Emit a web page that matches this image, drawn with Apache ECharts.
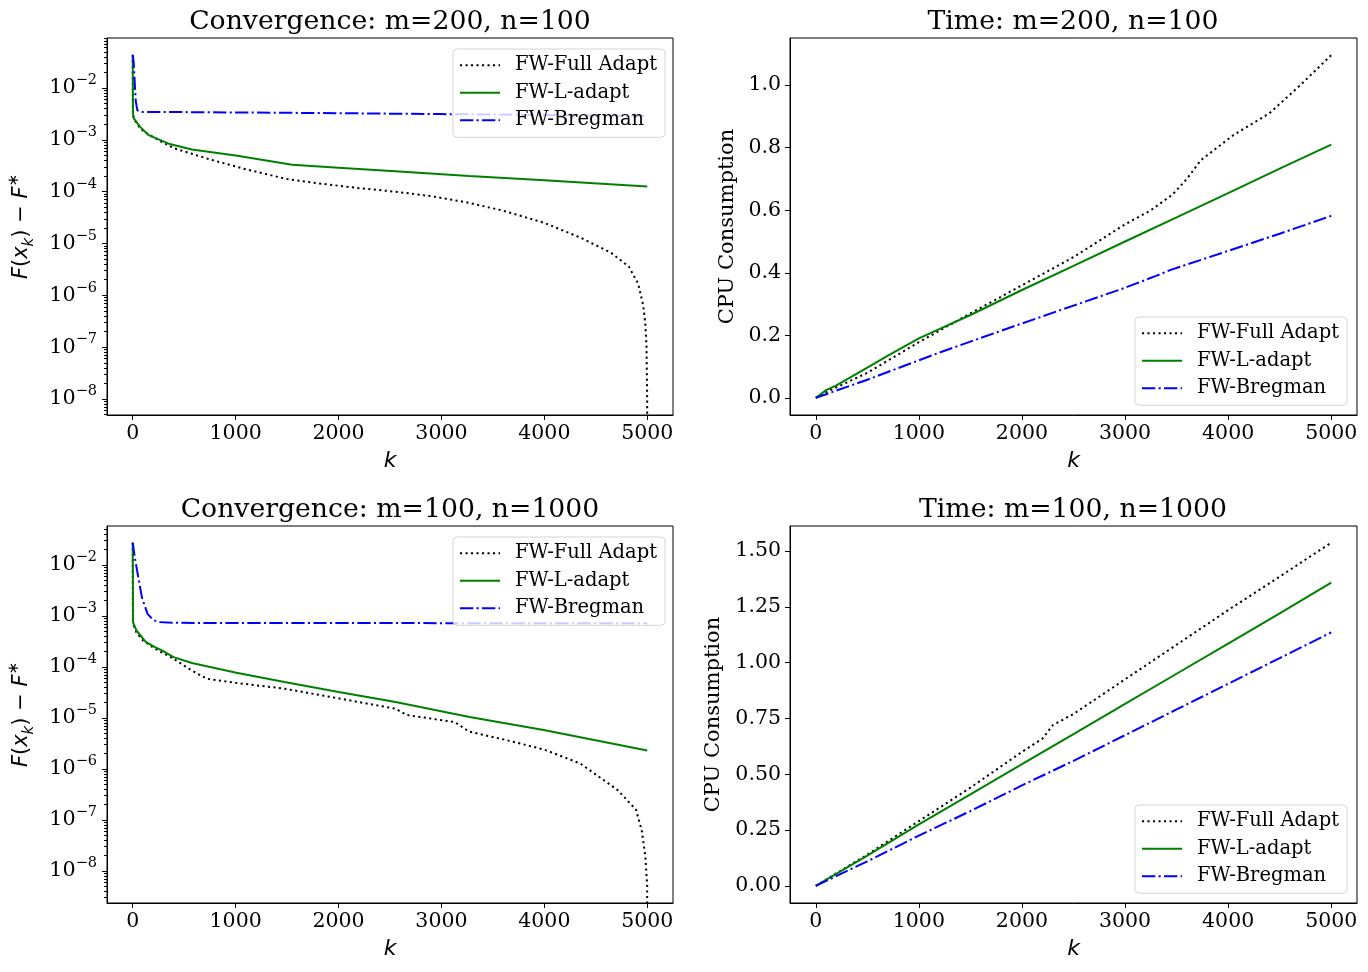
<!DOCTYPE html>
<html><head><meta charset="utf-8">
<script src="https://cdn.jsdelivr.net/npm/echarts@6/dist/echarts.min.js"></script>
<style>html,body{margin:0;padding:0;background:#fff}#c{width:1368px;height:972px}</style>
</head><body><div id="c"></div>
<script>
const seriesNames = ['FW-Full Adapt', 'FW-L-adapt', 'FW-Bregman'];
const kTicks = [0, 1000, 2000, 3000, 4000, 5000];
const logMajorTicks = [1e-8, 1e-7, 1e-6, 1e-5, 1e-4, 1e-3, 1e-2];
const tr1Ticks = [0, 0.2, 0.4, 0.6, 0.8, 1.0];
const tr2Ticks = [0, 0.25, 0.5, 0.75, 1.0, 1.25, 1.5];
const titles = ['Convergence: m=200, n=100', 'Time: m=200, n=100', 'Convergence: m=100, n=1000', 'Time: m=100, n=1000'];

// Convergence m=200, n=100 (last value is 0 in the original -> drawn off the bottom)
const conv1Full = [[0,0.043],[2,0.0033],[10,0.0026],[50,0.0019],[100,0.0015],[200,0.00112],[400,0.00069],[750,0.00042],[1100,0.00027],[1500,0.000175],[1800,0.000145],[2200,0.000117],[2550,0.0001],[2900,0.000082],[3250,0.000062],[3600,0.000043],[4000,0.000025],[4350,0.000013],[4650,0.0000066],[4820,0.0000036],[4910,0.0000017],[4960,6.5e-7],[4980,3e-7],[4992,1.1e-7],[4999,1.05e-8],[5000,1e-15]];
const conv1L = [[0,0.043],[2,0.0033],[10,0.0026],[70,0.0018],[150,0.00125],[360,0.00083],[575,0.00065],[1000,0.0005],[1550,0.00033],[2000,0.00029],[2550,0.000247],[3270,0.0002],[4000,0.000166],[5000,0.000126]];
const conv1B = [[0,0.044],[10,0.03],[20,0.012],[30,0.0055],[45,0.0037],[80,0.00346],[500,0.00343],[1000,0.00338],[2000,0.00327],[3000,0.00314],[4000,0.00302],[5000,0.0029]];
// Time m=200, n=100
const time1Full = [[0,0],[100,0.018],[500,0.08],[1000,0.178],[1500,0.27],[2000,0.36],[2500,0.45],[3000,0.555],[3250,0.6],[3460,0.65],[3600,0.7],[3735,0.76],[4050,0.84],[4400,0.91],[4700,1.0],[5000,1.096]];
const time1L = [[0,0],[50,0.012],[100,0.025],[200,0.04],[500,0.097],[700,0.135],[1000,0.19],[1500,0.265],[2000,0.345],[2500,0.422],[3000,0.5],[3500,0.577],[4000,0.655],[4500,0.733],[5000,0.81]];
const time1B = [[0,0],[500,0.058],[1000,0.12],[1200,0.145],[1500,0.18],[2000,0.238],[2500,0.295],[3000,0.352],[3300,0.39],[3450,0.41],[4000,0.47],[4500,0.525],[5000,0.582]];
// Convergence m=100, n=1000
const conv2Full = [[0,0.027],[2,0.0008],[10,0.00065],[36,0.00048],[100,0.00033],[216,0.00023],[396,0.000145],[575,0.000085],[720,0.000059],[1000,0.000049],[1475,0.0000376],[2014,0.000024],[2554,0.0000152],[2660,0.0000115],[3130,0.0000083],[3270,0.0000054],[3630,0.0000037],[4000,0.0000024],[4350,0.00000128],[4710,3.9e-7],[4890,1.6e-7],[4946,6.3e-8],[4982,1.9e-8],[4999,5.1e-9],[5000,1e-15]];
const conv2L = [[0,0.027],[3,0.00075],[36,0.00052],[126,0.00031],[216,0.000246],[288,0.00021],[396,0.000156],[575,0.00012],[1007,0.000077],[1475,0.000051],[2014,0.000032],[2554,0.0000206],[3273,0.0000105],[3993,0.0000058],[5000,0.0000023]];
const conv2B = [[0,0.0277],[18,0.015],[54,0.0057],[90,0.0023],[144,0.0011],[198,0.00084],[252,0.00076],[400,0.000735],[1000,0.00073],[3000,0.000725],[5000,0.00072]];
// Time m=100, n=1000
const time2Full = [[0,0],[500,0.14],[1000,0.29],[1500,0.44],[2000,0.6],[2200,0.66],[2300,0.72],[2500,0.77],[3000,0.925],[3500,1.08],[4000,1.235],[4500,1.385],[5000,1.537]];
const time2L = [[0,0],[500,0.135],[1000,0.275],[1500,0.41],[2000,0.545],[2500,0.68],[3000,0.815],[3500,0.95],[4000,1.085],[4500,1.22],[5000,1.358]];
const time2B = [[0,0],[500,0.11],[1000,0.225],[1500,0.335],[2000,0.45],[2500,0.56],[3000,0.675],[3500,0.79],[4000,0.905],[4500,1.02],[5000,1.135]];

const logMinorTicks = [];
for (let e = -9; e <= -2; e++) for (let m = 2; m <= 9; m++) logMinorTicks.push(+(m + 'e' + e));

const SERIF = 'DejaVu Serif';
const SANS = 'DejaVu Sans';
const grids = [
  {left: 107, top: 38, width: 566, height: 377},
  {left: 790, top: 38, width: 567, height: 377},
  {left: 107, top: 526, width: 566, height: 377},
  {left: 790, top: 526, width: 567, height: 377}
];
const lineStyles = [
  {color: '#000000', width: 2, type: [2.1, 3.4]},
  {color: '#008000', width: 2, type: 'solid'},
  {color: '#0000ff', width: 2, type: [13.3, 3.3, 2.1, 3.3]}
];
const panelData = [[conv1Full, conv1L, conv1B], [time1Full, time1L, time1B], [conv2Full, conv2L, conv2B], [time2Full, time2L, time2B]];

function logLabel(v) {
  const e = Math.round(Math.log10(v));
  return '{b|10}{s|−' + Math.abs(e) + '}';
}
const logRich = {
  b: {fontFamily: SERIF, fontSize: 20.7, color: '#000', lineHeight: 30},
  s: {fontFamily: SERIF, fontSize: 14.5, color: '#000', lineHeight: 22, verticalAlign: 'top'}
};
const fRich = {
  i: {fontFamily: SANS, fontStyle: 'italic', fontSize: 21, color: '#000', lineHeight: 30},
  n: {fontFamily: SANS, fontSize: 21, color: '#000', lineHeight: 30},
  sub: {fontFamily: SANS, fontStyle: 'italic', fontSize: 15, color: '#000', lineHeight: 30, verticalAlign: 'bottom'},
  sup: {fontFamily: SANS, fontSize: 15, color: '#000', lineHeight: 14, verticalAlign: 'top'}
};
const fName = '{i|F}{n|(}{i|x}{sub|k}{n|) − }{i|F}{sup|∗}';

const xAxes = [], yAxes = [];
grids.forEach((g, gi) => {
  xAxes.push({
    type: 'value', gridIndex: gi, min: -250, max: 5250,
    name: 'k', nameLocation: 'middle', nameGap: 35,
    nameTextStyle: {fontFamily: SANS, fontStyle: 'italic', fontSize: 22, color: '#000'},
    axisLine: {show: true, onZero: false, lineStyle: {color: '#000', width: 1}},
    axisTick: {show: true, inside: false, length: 5, lineStyle: {color: '#000', width: 1}, customValues: kTicks},
    axisLabel: {show: true, color: '#000', fontFamily: SERIF, fontSize: 20.5, margin: 8, customValues: kTicks, formatter: v => String(v)},
    splitLine: {show: false}
  });
});
const logExt = [[0, 4.91e-9, 0.0923], [2, 2.36e-9, 0.0582]];
logExt.forEach(([gi, mn, mx]) => {
  yAxes.push({
    type: 'log', logBase: 10, gridIndex: gi, position: 'left', min: mn, max: mx,
    name: fName, nameLocation: 'middle', nameRotate: 90, nameGap: 70,
    nameTextStyle: {rich: fRich},
    axisLine: {show: true, onZero: false, lineStyle: {color: '#000', width: 1}},
    axisTick: {show: true, length: 5, lineStyle: {color: '#000', width: 1}, customValues: logMajorTicks},
    axisLabel: {show: true, margin: 10, formatter: logLabel, rich: logRich, customValues: logMajorTicks},
    splitLine: {show: false}, minorTick: {show: false}
  });
});
[[1, -0.0548, 1.1508, tr1Ticks, 1, 52], [3, -0.0767, 1.6117, tr2Ticks, 2, 66]].forEach(([gi, mn, mx, tk, dec, gap]) => {
  yAxes.push({
    type: 'value', gridIndex: gi, position: 'left', min: mn, max: mx,
    name: 'CPU Consumption', nameLocation: 'middle', nameRotate: 90, nameGap: gap,
    nameTextStyle: {fontFamily: SERIF, fontSize: 21, color: '#000'},
    axisLine: {show: true, onZero: false, lineStyle: {color: '#000', width: 1}},
    axisTick: {show: true, length: 5, lineStyle: {color: '#000', width: 1}, customValues: tk},
    axisLabel: {show: true, color: '#000', fontFamily: SERIF, fontSize: 20.5, margin: 9, customValues: tk, formatter: v => v.toFixed(dec)},
    splitLine: {show: false}
  });
});
logExt.forEach(([gi, mn, mx]) => {
  yAxes.push({
    type: 'log', logBase: 10, gridIndex: gi, position: 'left', min: mn, max: mx,
    axisLine: {show: false, onZero: false},
    axisTick: {show: true, length: 3, lineStyle: {color: '#000', width: 1}, customValues: logMinorTicks},
    axisLabel: {show: false},
    splitLine: {show: false}
  });
});
const yIdx = [0, 2, 1, 3];

const series = [];
panelData.forEach((pd, gi) => {
  pd.forEach((d, si) => {
    series.push({
      type: 'line', name: seriesNames[si], xAxisIndex: gi, yAxisIndex: yIdx[gi],
      data: d, symbol: 'none', showSymbol: false, clip: true, animation: false,
      lineStyle: lineStyles[si], itemStyle: {color: lineStyles[si].color},
      emphasis: {disabled: true}
    });
  });
});

const legendPos = [[453, 49], [1135, 317], [453, 537], [1135, 805]];
const legends = legendPos.map(([l, t]) => ({
  orient: 'vertical', left: l, top: t, data: seriesNames,
  itemWidth: 40, itemHeight: 14, itemGap: 7.5,
  padding: [6.3, 8, 7, 6],
  itemStyle: {opacity: 0},
  backgroundColor: 'rgba(255,255,255,0.8)', borderColor: 'rgba(204,204,204,0.8)', borderWidth: 1, borderRadius: 4,
  textStyle: {fontFamily: SERIF, fontSize: 19.5, color: '#000', lineHeight: 20, padding: [0, 0, 0, 10]},
  selectedMode: false
}));

const titleCenters = [[390, 9], [1073, 9], [390, 497], [1073, 497]];
const titleOpts = titles.map((t, i) => ({
  text: t, left: titleCenters[i][0], top: titleCenters[i][1], textAlign: 'center', padding: 0,
  textStyle: {fontFamily: SERIF, fontSize: 26.7, fontWeight: 'normal', color: '#000'}
}));

const chart = echarts.init(document.getElementById('c'), null, {renderer: 'canvas'});
chart.setOption({
  animation: false,
  backgroundColor: '#fff',
  title: titleOpts,
  legend: legends,
  grid: grids.map(g => Object.assign({show: true, borderColor: '#000', borderWidth: 1, backgroundColor: 'transparent', containLabel: false}, g)),
  xAxis: xAxes,
  yAxis: yAxes,
  series: series
});
</script></body></html>
